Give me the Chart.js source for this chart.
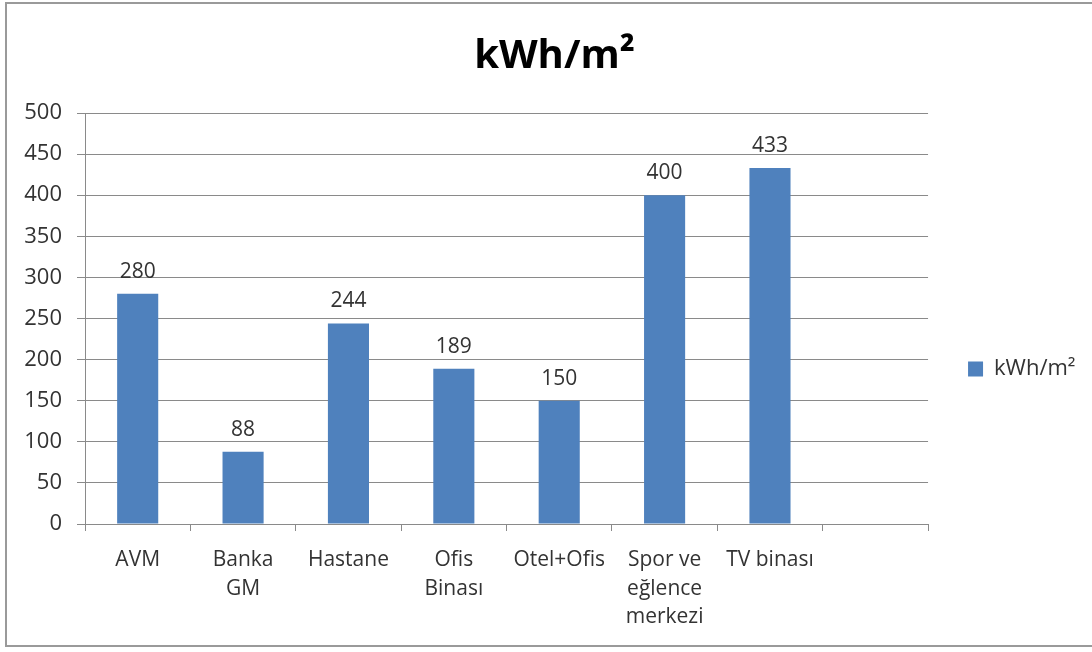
<!DOCTYPE html>
<html>
<head>
<meta charset="utf-8">
<script src="https://cdn.jsdelivr.net/npm/chart.js@4/dist/chart.umd.min.js"></script>
<style>
  html, body { margin: 0; padding: 0; background: #ffffff; }
  #frame {
    position: absolute; left: 5px; top: 2px; width: 1110px; height: 645px;
    border: 2px solid #9a9a9a; box-sizing: border-box;
  }
  #wrap { position: absolute; left: 0; top: 0; width: 1092px; height: 652px; }
</style>
</head>
<body>
<div id="frame"></div>
<div id="wrap"><canvas id="c" width="1092" height="652"></canvas></div>
<script>
// Energy intensity per building type
const chartTitle = 'kWh/m²';
const seriesName = 'kWh/m²';
const categories = ['AVM', ['Banka', 'GM'], 'Hastane', ['Ofis', 'Binası'], 'Otel+Ofis',
                    ['Spor ve', 'eğlence', 'merkezi'], 'TV binası', ''];
const values = [280, 88, 244, 189, 150, 400, 433, null];
const yTicks = [0, 50, 100, 150, 200, 250, 300, 350, 400, 450, 500];

const FONT = "'Open Sans', 'Noto Sans', sans-serif";
const TEXT = '#333333';
const GRID = '#8a8a8a';
const BAR = '#4F81BD';

// Value labels printed above each bar
const barValueLabels = {
  id: 'barValueLabels',
  afterDatasetsDraw(chart) {
    const ctx = chart.ctx;
    const meta = chart.getDatasetMeta(0);
    ctx.save();
    ctx.font = '21px ' + FONT;
    ctx.fillStyle = TEXT;
    ctx.textAlign = 'center';
    ctx.textBaseline = 'alphabetic';
    meta.data.forEach((bar, i) => {
      const v = chart.data.datasets[0].data[i];
      if (v === null || v === undefined) return;
      ctx.fillText(String(v), bar.x, bar.y - 16);
    });
    ctx.restore();
  }
};

new Chart(document.getElementById('c'), {
  type: 'bar',
  data: {
    labels: categories,
    datasets: [{
      label: seriesName,
      data: values,
      backgroundColor: BAR,
      borderWidth: 0,
      categoryPercentage: 1.0,
      barPercentage: 0.39
    }]
  },
  options: {
    responsive: false,
    animation: false,
    devicePixelRatio: 1,
    layout: { padding: { left: 23.5, right: 6.5, top: 0, bottom: -86 } },
    plugins: {
      title: {
        display: true,
        text: chartTitle,
        color: '#000000',
        font: { family: FONT, size: 40, weight: 'bold', lineHeight: 1.2 },
        padding: { top: 33, bottom: 32 }
      },
      legend: {
        display: true,
        position: 'right',
        fullSize: true,
        labels: {
          color: TEXT,
          font: { family: FONT, size: 22 },
          boxWidth: 15,
          boxHeight: 15,
          padding: 40
        }
      },
      tooltip: { enabled: false }
    },
    scales: {
      x: {
        grid: {
          display: true,
          offset: true,
          drawOnChartArea: false,
          drawTicks: true,
          tickLength: 7,
          color: GRID
        },
        border: { display: true, color: GRID, width: 1 },
        ticks: {
          color: TEXT,
          font: { family: FONT, size: 21, lineHeight: 1.36 },
          padding: 15,
          maxRotation: 0,
          autoSkip: false
        },
        afterFit(scale) { scale.height = 652 + 86 - 524; }
      },
      y: {
        min: 0,
        max: 500,
        afterBuildTicks(scale) { scale.ticks = yTicks.map(v => ({ value: v })); },
        grid: {
          display: true,
          drawOnChartArea: true,
          drawTicks: true,
          tickLength: 8,
          color: GRID
        },
        border: { display: true, color: GRID, width: 1 },
        ticks: {
          color: TEXT,
          font: { family: FONT, size: 22 },
          padding: 15
        },
        afterFit(scale) { scale.width = 85 - 23.5; }
      }
    }
  },
  plugins: [barValueLabels]
});
</script>
</body>
</html>
